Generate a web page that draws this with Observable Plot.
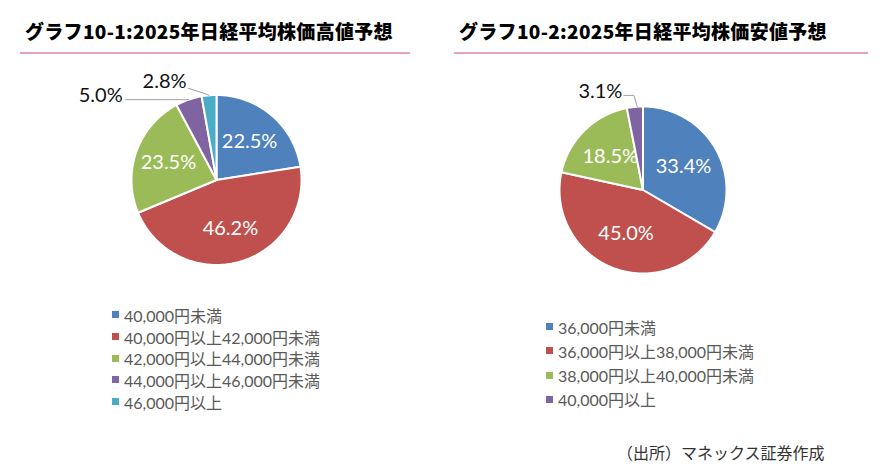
<!DOCTYPE html>
<html>
<head>
<meta charset="utf-8">
<script src="https://cdn.jsdelivr.net/npm/d3@7"></script>
<script src="https://cdn.jsdelivr.net/npm/@observablehq/plot@0.6"></script>
<style>
  html, body { margin: 0; padding: 0; background: #fff; }
  #root { position: relative; width: 886px; height: 475px; background: #fff; overflow: hidden; }
  .title { position: absolute; font-family: "Noto Sans CJK JP", sans-serif; font-weight: 900; font-size: 19px; line-height: 20px; color: #000; white-space: nowrap; }
  .rule { position: absolute; height: 2px; background: #E3A3C6; }
  .chart { position: absolute; }
  .legend { position: absolute; font-family: "Lato", "Noto Sans CJK JP", sans-serif; font-size: 16px; color: #595959; white-space: nowrap; }
  .legend .row { display: flex; align-items: center; }
  .legend .sw { width: 7px; height: 7px; margin-right: 5px; flex: none; }
  .caption { position: absolute; font-family: "Noto Sans CJK JP", sans-serif; font-size: 16px; line-height: 16px; color: #333; white-space: nowrap; }
</style>
</head>
<body>
<div id="root"></div>
<script>
// ---- data ----
const titleHigh = "グラフ10-1:2025年日経平均株価高値予想";
const titleLow = "グラフ10-2:2025年日経平均株価安値予想";
const highCats = ["40,000円未満", "40,000円以上42,000円未満", "42,000円以上44,000円未満", "44,000円以上46,000円未満", "46,000円以上"];
const highVals = [22.5, 46.2, 23.5, 5.0, 2.8];
const lowCats = ["36,000円未満", "36,000円以上38,000円未満", "38,000円以上40,000円未満", "40,000円以上"];
const lowVals = [33.4, 45.0, 18.5, 3.1];
const sliceColors = ["#4F81BD", "#C0504D", "#9BBB59", "#8064A2", "#4BACC6"];
const captionText = "（出所）マネックス証券作成";

const root = document.getElementById("root");

function addDiv(cls, style, text) {
  const d = document.createElement("div");
  d.className = cls;
  Object.assign(d.style, style);
  if (text != null) d.textContent = text;
  root.appendChild(d);
  return d;
}

function pieChart(cats, vals, opt) {
  const arcs = d3.pie().sort(null).value(d => d)(vals);
  const slices = arcs.map((a, i) => ({
    i, cat: cats[i], value: vals[i], a0: a.startAngle, a1: a.endAngle,
    mid: (a.startAngle + a.endAngle) / 2,
    label: vals[i].toFixed(1) + "%"
  }));
  const pts = slices.flatMap(s => {
    const n = Math.max(2, Math.ceil((s.a1 - s.a0) / (Math.PI / 180)));
    const arr = [{cat: s.cat, x: 0, y: 0}];
    for (let k = 0; k <= n; k++) {
      const a = s.a0 + (s.a1 - s.a0) * k / n;
      arr.push({cat: s.cat, x: Math.sin(a), y: Math.cos(a)});
    }
    return arr;
  });
  const r = opt.r;
  const outIdx = new Set(opt.outside.map(o => o.i));
  const inside = slices.filter(s => !outIdx.has(s.i)).map(s => ({
    label: s.label, x: opt.k * Math.sin(s.mid), y: opt.k * Math.cos(s.mid)
  }));
  const off = (s, p) => ({x: Math.sin(s.mid) + p[0] / r, y: Math.cos(s.mid) - p[1] / r});
  const outText = opt.outside.map(o => {
    const s = slices[o.i];
    return {label: s.label, ...off(s, o.text)};
  });
  const leaders = opt.outside.flatMap(o => {
    const s = slices[o.i];
    return o.path.map(p => ({i: o.i, ...off(s, p)}));
  });
  return Plot.plot({
    width: opt.width, height: opt.height,
    margin: 0,
    x: {domain: [-1, 1], range: [opt.cx - r, opt.cx + r], axis: null},
    y: {domain: [-1, 1], range: [opt.cy + r, opt.cy - r], axis: null},
    color: {domain: cats, range: sliceColors.slice(0, cats.length)},
    style: {background: "transparent", overflow: "visible"},
    marks: [
      Plot.line(pts, {x: "x", y: "y", z: "cat", fill: "cat", stroke: "white", strokeWidth: 2, strokeLinejoin: "round", curve: "linear-closed"}),
      Plot.line(leaders, {x: "x", y: "y", z: "i", stroke: "#a0a0a0", strokeWidth: 1}),
      Plot.text(inside, {x: "x", y: "y", text: "label", fill: "white", fontSize: 20, fontFamily: "Lato, sans-serif"}),
      Plot.text(outText, {x: "x", y: "y", text: "label", fill: "#111", fontSize: 20, fontFamily: "Lato, sans-serif", textAnchor: "end"})
    ]
  });
}

// titles and rules
addDiv("title", {left: "25px", top: "21px", letterSpacing: "0.3px"}, titleHigh);
addDiv("title", {left: "459px", top: "21px", letterSpacing: "0.3px"}, titleLow);
addDiv("rule", {left: "20px", top: "51.5px", width: "390px"});
addDiv("rule", {left: "454px", top: "51.5px", width: "414px"});

// pies
const c1 = addDiv("chart", {left: "0px", top: "60px"});
c1.appendChild(pieChart(highCats, highVals, {
  width: 443, height: 230, cx: 216, cy: 119.5, r: 85, k: 0.6,
  outside: [
    {i: 3, text: [-66, -4], path: [[-63, 0], [0, 0]]},
    {i: 4, text: [-22.5, -14], path: [[-20.5, -7], [-5, -2], [0, 0]]}
  ]
}));
const c2 = addDiv("chart", {left: "443px", top: "60px"});
c2.appendChild(pieChart(lowCats, lowVals, {
  width: 443, height: 240, cx: 199.5, cy: 129.5, r: 83.5, k: 0.56,
  outside: [
    {i: 3, text: [-12.5, -15.5], path: [[-11, -11.5], [-1, -11.5], [2.5, 0]]}
  ]
}));

// legends
function legend(cats, left, top, rowH) {
  const lg = addDiv("legend", {left: left + "px", top: top + "px"});
  cats.forEach((c, i) => {
    const row = document.createElement("div");
    row.className = "row";
    row.style.height = rowH + "px";
    const sw = document.createElement("span");
    sw.className = "sw";
    sw.style.background = sliceColors[i];
    const t = document.createElement("span");
    t.textContent = c;
    row.appendChild(sw);
    row.appendChild(t);
    lg.appendChild(row);
  });
}
legend(highCats, 112, 304, 21.7);
legend(lowCats, 546, 314.6, 24.2);

addDiv("caption", {left: "617px", top: "444px"}, captionText);
</script>
</body>
</html>
